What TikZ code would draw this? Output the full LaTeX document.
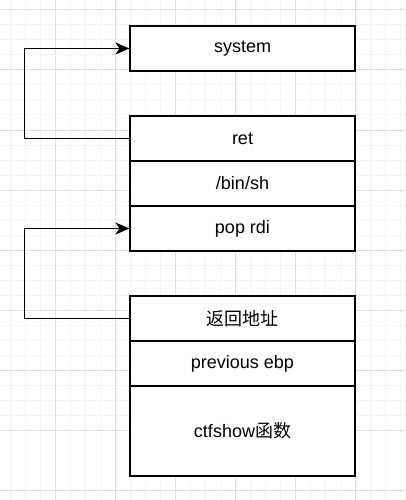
\documentclass[tikz,border=0pt]{standalone}
\usepackage{fontspec}
\setmainfont{Liberation Sans}
\newfontfamily\cjk{Noto Sans CJK SC}
\usepackage{tikz}
\usetikzlibrary{arrows.meta,positioning}
\usepackage{xcolor}
\definecolor{gridminor}{RGB}{245,245,245}
\definecolor{gridmajor}{RGB}{224,224,224}
\tikzstyle{cell} = [rectangle, minimum width=225pt, minimum height=45pt, text centered, draw=black, fill=white, line width=1.2pt, inner sep=0pt, font=\fontsize{18}{21}\selectfont]
\tikzstyle{arrow} = [line width=1.2pt, -{Stealth[length=14pt, width=12pt, inset=4pt]}, color=black]

\begin{document}
\begin{tikzpicture}[x=1pt, y=-1pt]
\useasboundingbox (0,0) rectangle (405,500);
% Background grid
\fill[white] (0,0) rectangle (405,500);
\foreach \k in {0,...,27} {
  \draw[gridminor, line width=1pt] (-5+15*\k,0) -- (-5+15*\k,500);
  \draw[gridminor, line width=1pt] (0,10+15*\k) -- (405,10+15*\k);
}
\foreach \k in {1,...,7} {
  \draw[gridmajor, line width=1pt] (-5+60*\k,0) -- (-5+60*\k,500);
}
\foreach \k in {0,...,8} {
  \draw[gridmajor, line width=1pt] (0,10+60*\k) -- (405,10+60*\k);
}

% Target
\node[cell] (system) at (242.5,48.5) {system};

% Payload stack
\node[cell] (ret) at (242.5,138.5) {ret};
\node[cell] (binsh) at (242.5,183.5) {/bin/sh};
\node[cell] (poprdi) at (242.5,228.5) {pop rdi};

% Original frame
\node[cell] (retaddr) at (242.5,318.5) {\cjk 返回地址};
\node[cell] (ebp) at (242.5,363.5) {previous ebp};
\node[cell, minimum height=90pt] (func) at (242.5,431) {ctfshow{\cjk 函数}};

\draw[arrow] (ret.west) -- ++(-105,0) |- (system.west);
\draw[arrow] (retaddr.west) -- ++(-105,0) |- (poprdi.west);
\end{tikzpicture}
\end{document}
